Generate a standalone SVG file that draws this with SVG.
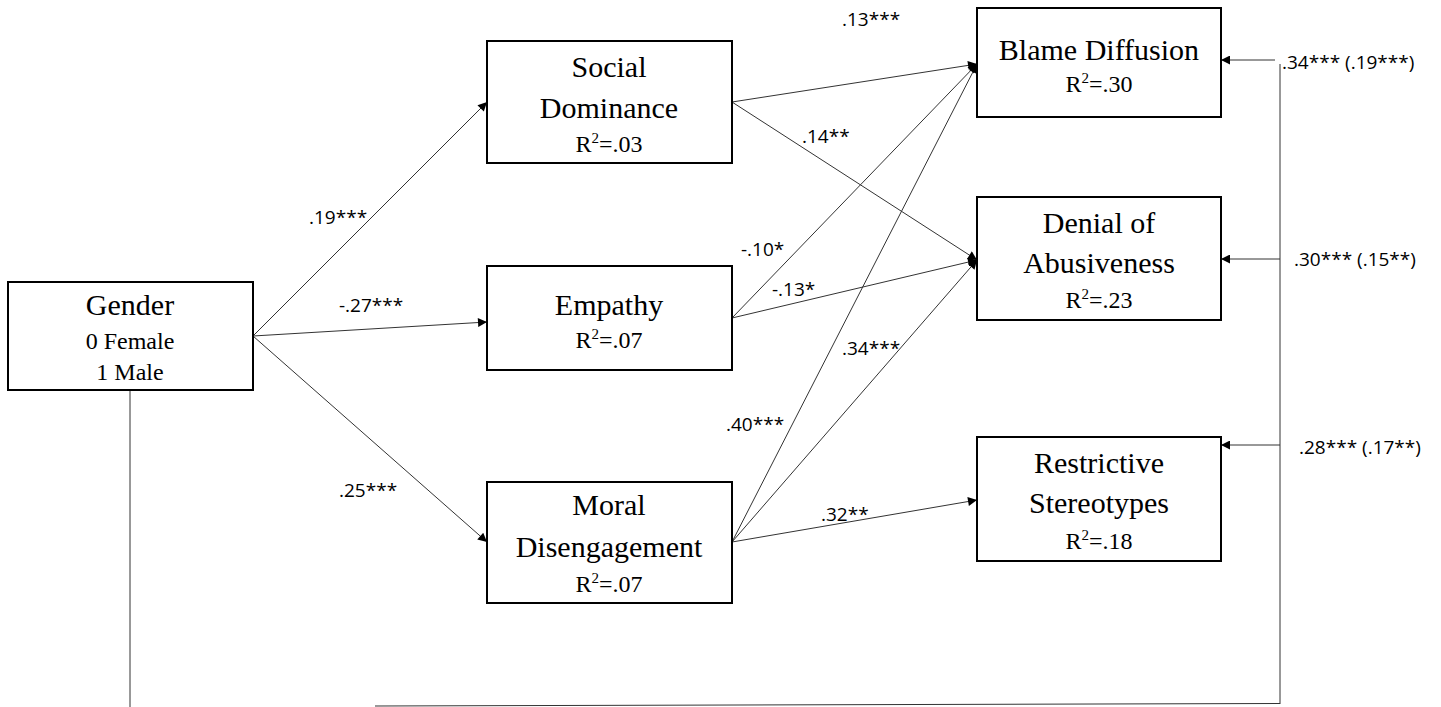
<svg xmlns="http://www.w3.org/2000/svg" width="1441" height="707" viewBox="0 0 1441 707">
<style>
.box{fill:#fff;stroke:#000;stroke-width:2}
.t{font-family:"Liberation Serif","Times New Roman",serif;fill:#000;text-anchor:middle}
.big{font-size:30px}
.sm{font-size:24px}
.lbl{font-family:"Open Sans","Liberation Sans",sans-serif;font-size:19px;fill:#000}
.ln{stroke:#333;stroke-width:1;fill:none}
</style>
<defs>
<marker id="ah" viewBox="0 0 10 10" refX="10" refY="5" markerWidth="11" markerHeight="9" markerUnits="userSpaceOnUse" orient="auto">
<path d="M0,0 L10,5 L0,10 z" fill="#000"/>
</marker>
</defs>
<rect width="1441" height="707" fill="#fff"/>
<g id="connectors">
<line class="ln" x1="253" y1="336" x2="487" y2="102" marker-end="url(#ah)"/>
<line class="ln" x1="253" y1="336" x2="487" y2="322" marker-end="url(#ah)"/>
<line class="ln" x1="253" y1="336" x2="487" y2="542" marker-end="url(#ah)"/>
<line class="ln" x1="732" y1="102" x2="977" y2="64" marker-end="url(#ah)"/>
<line class="ln" x1="732" y1="102" x2="977" y2="260" marker-end="url(#ah)"/>
<line class="ln" x1="732" y1="318" x2="977" y2="64" marker-end="url(#ah)"/>
<line class="ln" x1="732" y1="318" x2="977" y2="260" marker-end="url(#ah)"/>
<line class="ln" x1="732" y1="542" x2="977" y2="64" marker-end="url(#ah)"/>
<line class="ln" x1="732" y1="542" x2="977" y2="260" marker-end="url(#ah)"/>
<line class="ln" x1="732" y1="542" x2="977" y2="500" marker-end="url(#ah)"/>
<line class="ln" x1="1275" y1="60" x2="1221" y2="60" marker-end="url(#ah)"/>
<line class="ln" x1="1280" y1="259" x2="1221" y2="259" marker-end="url(#ah)"/>
<line class="ln" x1="1280" y1="445" x2="1221" y2="445" marker-end="url(#ah)"/>
<line class="ln" x1="1280" y1="64" x2="1280" y2="704"/>
<line class="ln" x1="130" y1="390" x2="130" y2="707"/>
<line class="ln" x1="375" y1="706" x2="1280" y2="703.5"/>
</g>
<g id="gender">
<rect class="box" x="8" y="282" width="245" height="108"/>
<text class="t big" x="130" y="315">Gender</text>
<text class="t sm" x="130" y="349">0 Female</text>
<text class="t sm" x="130" y="380">1 Male</text>
</g>
<g id="social-dominance">
<rect class="box" x="487" y="41" width="245" height="122"/>
<text class="t big" x="609" y="77">Social</text>
<text class="t big" x="609" y="118">Dominance</text>
<text class="t sm" x="609" y="152">R<tspan font-size="15" dy="-9">2</tspan><tspan dy="9">=.03</tspan></text>
</g>
<g id="empathy">
<rect class="box" x="487" y="266" width="245" height="104"/>
<text class="t big" x="609" y="315">Empathy</text>
<text class="t sm" x="609" y="348">R<tspan font-size="15" dy="-9">2</tspan><tspan dy="9">=.07</tspan></text>
</g>
<g id="moral-disengagement">
<rect class="box" x="487" y="482" width="245" height="121"/>
<text class="t big" x="609" y="515">Moral</text>
<text class="t big" x="609" y="557">Disengagement</text>
<text class="t sm" x="609" y="592">R<tspan font-size="15" dy="-9">2</tspan><tspan dy="9">=.07</tspan></text>
</g>
<g id="blame-diffusion">
<rect class="box" x="977" y="8" width="244" height="109"/>
<text class="t big" x="1099" y="60">Blame Diffusion</text>
<text class="t sm" x="1099" y="92">R<tspan font-size="15" dy="-9">2</tspan><tspan dy="9">=.30</tspan></text>
</g>
<g id="denial-of-abusiveness">
<rect class="box" x="977" y="197" width="244" height="123"/>
<text class="t big" x="1099" y="233">Denial of</text>
<text class="t big" x="1099" y="273">Abusiveness</text>
<text class="t sm" x="1099" y="308">R<tspan font-size="15" dy="-9">2</tspan><tspan dy="9">=.23</tspan></text>
</g>
<g id="restrictive-stereotypes">
<rect class="box" x="977" y="437" width="244" height="124"/>
<text class="t big" x="1099" y="473">Restrictive</text>
<text class="t big" x="1099" y="513">Stereotypes</text>
<text class="t sm" x="1099" y="549">R<tspan font-size="15" dy="-9">2</tspan><tspan dy="9">=.18</tspan></text>
</g>
<g id="labels">
<text class="lbl" x="309" y="224">.19***</text>
<text class="lbl" x="339" y="312">-.27***</text>
<text class="lbl" x="339" y="497">.25***</text>
<text class="lbl" x="842" y="26">.13***</text>
<text class="lbl" x="802" y="143">.14**</text>
<text class="lbl" x="741" y="256">-.10*</text>
<text class="lbl" x="772" y="296">-.13*</text>
<text class="lbl" x="842" y="355">.34***</text>
<text class="lbl" x="726" y="431">.40***</text>
<text class="lbl" x="821" y="521">.32**</text>
<text class="lbl" x="1282" y="69">.34*** (.19***)</text>
<text class="lbl" x="1294" y="266">.30*** (.15**)</text>
<text class="lbl" x="1299" y="454">.28*** (.17**)</text>
</g>
</svg>
